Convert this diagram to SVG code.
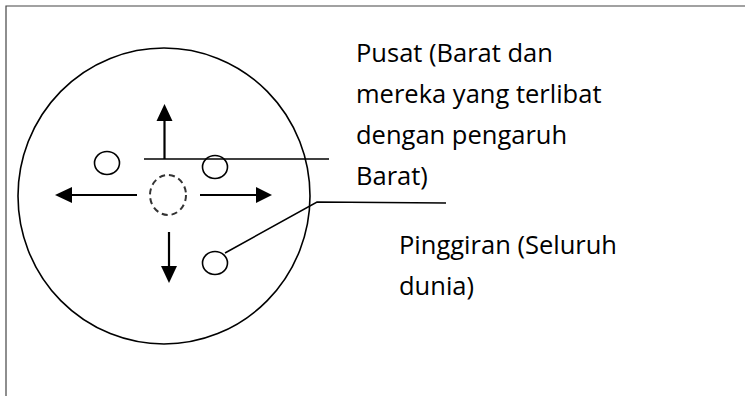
<svg xmlns="http://www.w3.org/2000/svg" width="745" height="396" viewBox="0 0 745 396">
<defs>
<style>
.frame{fill:none;stroke:#444;stroke-width:1.2}
.ring{fill:none;stroke:#000;stroke-width:1.6}
.dash{fill:none;stroke:#333;stroke-width:2;stroke-dasharray:6 4}
.ln{fill:none;stroke:#000;stroke-width:1.5}
.arr{fill:none;stroke:#000;stroke-width:2.2}
.head{fill:#000}
.lbl{font-family:"Open Sans","Noto Sans",sans-serif;font-size:25.5px;fill:#000}
</style>
</defs>
<rect width="745" height="396" fill="#fff"/>
<path class="frame" d="M6 396 V6 H745"/>
<g id="outer"><ellipse class="ring" cx="164" cy="196" rx="146" ry="148"/></g>
<g id="center"><ellipse class="dash" cx="168" cy="195" rx="18" ry="20"/></g>
<g id="dot1"><ellipse class="ring" cx="107" cy="163" rx="12.5" ry="11.5"/></g>
<g id="dot2"><ellipse class="ring" cx="215" cy="167" rx="12.5" ry="11.5"/></g>
<g id="dot3"><ellipse class="ring" cx="215" cy="263" rx="12.5" ry="11.5"/></g>
<g id="connectors">
<line class="ln" x1="144" y1="159" x2="329" y2="159"/>
<line class="arr" x1="164.5" y1="159" x2="164.5" y2="120"/>
<polygon class="head" points="164.5,104 156.5,121 172.5,121"/>
<line class="arr" x1="137" y1="195" x2="70" y2="195"/>
<polygon class="head" points="55,195 72,187 72,203"/>
<line class="arr" x1="200" y1="195" x2="259" y2="195"/>
<polygon class="head" points="272,195 256,187 256,203"/>
<line class="arr" x1="169" y1="232" x2="169" y2="268"/>
<polygon class="head" points="169,283 161,266 177,266"/>
<polyline class="ln" points="225,253 317,202 446,203"/>
</g>
<g id="label-pusat">
<text class="lbl" x="356" y="62">Pusat (Barat dan</text>
<text class="lbl" x="356" y="103">mereka yang terlibat</text>
<text class="lbl" x="356" y="144">dengan pengaruh</text>
<text class="lbl" x="356" y="185">Barat)</text>
</g>
<g id="label-pinggiran">
<text class="lbl" x="399" y="254">Pinggiran (Seluruh</text>
<text class="lbl" x="399" y="295">dunia)</text>
</g>
</svg>
